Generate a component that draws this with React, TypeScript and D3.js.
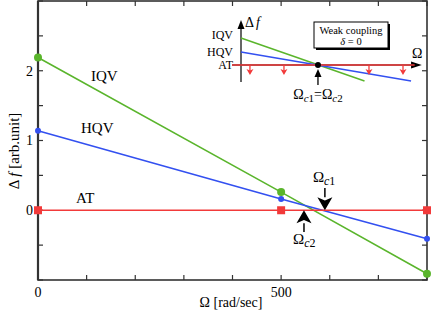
import React, { useRef, useEffect } from "react";
import * as d3 from "d3";

// main chart data
const omega = [0, 500, 800];
const iqv = [2.19, 0.26, -0.91];
const hqv = [1.14, 0.16, -0.41];
const at = [0, 0, 0];
const xTicks = [0, 100, 200, 300, 400, 500, 600, 700, 800];
const xTickLabels = [0, 500];
const yTicks = [-1, -0.5, 0, 0.5, 1, 1.5, 2, 2.5, 3];
const yTickLabels = [0, 1, 2];
const omegaC1 = 590;
const omegaC2 = 547;

// inset schematic (arbitrary units)
const insetIqvX = [0, 6.9];
const insetIqvY = [2.7, -1.6];
const insetHqvX = [0, 9.5];
const insetHqvY = [1.3, -1.6];
const insetAtX = [-0.5, 9.7];
const insetAtY = [0, 0];
const insetDown = [0.5, 2.4, 7.15, 9.05];
const insetCross = 4.3;

const GREEN = "#5ab52c";
const BLUE = "#3350f0";
const RED = "#f23a3a";
const AXIS = "#333";
const FONT = "Liberation Serif";

const App = () => {
	const svg_ref = useRef(null);
	const svg_width = 436;
	const svg_height = 317;

	useEffect(() => {
		const svg = d3.select(svg_ref.current);
		svg.selectChildren().remove();

		const x_scale = d3.scaleLinear().domain([0, 800]).range([38, 427]);
		const y_scale = d3.scaleLinear().domain([-1, 3]).range([280, 1]);
		const [x0, x1] = x_scale.range();
		const [y0, y1] = y_scale.range();

		// frame
		svg.append("rect")
			.attr("x", x0).attr("y", y1)
			.attr("width", x1 - x0).attr("height", y0 - y1)
			.attr("fill", "none").attr("stroke", AXIS).attr("stroke-width", 1.6);
		svg.append("line")
			.attr("x1", x0).attr("x2", x0).attr("y1", y1).attr("y2", y0)
			.attr("stroke", AXIS).attr("stroke-width", 2.2);

		// ticks on all four sides, pointing in
		const tl = 5;
		xTicks.forEach(t => {
			const x = x_scale(t);
			svg.append("line").attr("x1", x).attr("x2", x).attr("y1", y0).attr("y2", y0 - tl).attr("stroke", AXIS).attr("stroke-width", 1.2);
			svg.append("line").attr("x1", x).attr("x2", x).attr("y1", y1).attr("y2", y1 + tl).attr("stroke", AXIS).attr("stroke-width", 1.2);
		});
		yTicks.forEach(t => {
			const y = y_scale(t);
			svg.append("line").attr("x1", x0).attr("x2", x0 + tl).attr("y1", y).attr("y2", y).attr("stroke", AXIS).attr("stroke-width", 1.2);
			svg.append("line").attr("x1", x1).attr("x2", x1 - tl).attr("y1", y).attr("y2", y).attr("stroke", AXIS).attr("stroke-width", 1.2);
		});

		const text = (sel: any, x: number, y: number, size: number, anchor = "start") =>
			sel.append("text").attr("x", x).attr("y", y)
				.attr("font-family", FONT).attr("font-size", size).attr("text-anchor", anchor);

		xTickLabels.forEach(t => {
			text(svg, x_scale(t), 297, 14, "middle").text(t);
		});
		yTickLabels.forEach(t => {
			text(svg, 33, y_scale(t), 14, "end").attr("dy", "0.35em").text(t);
		});

		// axis titles
		text(svg, 231, 307, 14, "middle").text("Ω [rad/sec]");
		const ylab = svg.append("text")
			.attr("transform", "translate(19, 151) rotate(-90)")
			.attr("font-family", FONT).attr("text-anchor", "middle").attr("font-size", 15);
		ylab.append("tspan").text("Δ ");
		ylab.append("tspan").attr("font-style", "italic").text("f");
		ylab.append("tspan").text(" [arb.unit]");

		// series
		const series = [
			{ name: "IQV", values: iqv, color: GREEN, shape: "circle", r: 4 },
			{ name: "HQV", values: hqv, color: BLUE, shape: "circle", r: 3 },
			{ name: "AT", values: at, color: RED, shape: "square", r: 4 },
		];
		const line = d3.line<number>()
			.x((d, i) => x_scale(omega[i]))
			.y(d => y_scale(d));
		const g = svg.append("g");
		series.forEach(s => {
			g.append("path").datum(s.values)
				.attr("fill", "none").attr("stroke", s.color).attr("stroke-width", 1.6)
				.attr("d", line);
		});
		series.forEach(s => {
			s.values.forEach((v, i) => {
				if (s.shape === "circle") {
					g.append("circle").attr("cx", x_scale(omega[i])).attr("cy", y_scale(v))
						.attr("r", s.r).attr("fill", s.color);
				} else {
					g.append("rect").attr("x", x_scale(omega[i]) - s.r).attr("y", y_scale(v) - s.r)
						.attr("width", s.r * 2).attr("height", s.r * 2).attr("fill", s.color);
				}
			});
		});

		// series labels
		text(svg, 91, 81, 15).text("IQV");
		text(svg, 81, 133, 15).text("HQV");
		text(svg, 76, 203, 15).text("AT");

		// critical frequency arrows
		const arrow = (x: number, yTail: number, yTip: number, w: number, h: number) => {
			const dir = yTip > yTail ? 1 : -1;
			svg.append("line").attr("x1", x).attr("x2", x).attr("y1", yTail).attr("y2", yTip - dir * h)
				.attr("stroke", "#000").attr("stroke-width", 1.5);
			svg.append("path")
				.attr("d", `M${x},${yTip} L${x - w / 2},${yTip - dir * h} L${x},${yTip - dir * h * 0.75} L${x + w / 2},${yTip - dir * h} Z`)
				.attr("fill", "#000");
		};
		const omegaLabel = (x: number, y: number, sub: string, size: number) => {
			const t = text(svg, x, y, size);
			t.append("tspan").text("Ω");
			t.append("tspan").attr("font-style", "italic").attr("font-size", size * 0.8).attr("dy", 3).text("c");
			t.append("tspan").attr("font-size", size * 0.8).text(sub);
			return t;
		};
		arrow(x_scale(omegaC1), 188, y_scale(0), 15, 13);
		omegaLabel(x_scale(omegaC1) - 12, 182, "1", 15);
		arrow(x_scale(omegaC2), 232, y_scale(0), 15, 13);
		omegaLabel(x_scale(omegaC2) - 11, 244, "2", 15);

		// inset
		const ix = d3.scaleLinear().domain([0, 10]).range([241, 420]);
		const iy = d3.scaleLinear().domain([-2, 4.5]).range([85, 20]);
		const ins = svg.append("g");
		ins.append("line").attr("x1", ix(0)).attr("x2", ix(0)).attr("y1", iy(-1.7)).attr("y2", iy(4.0))
			.attr("stroke", AXIS).attr("stroke-width", 1.5);
		ins.append("path").attr("d", `M${ix(0)},${iy(4.5)} L${ix(0) - 3.5},${iy(3.6)} L${ix(0) + 3.5},${iy(3.6)} Z`).attr("fill", "#000");
		ins.append("line").attr("x1", ix(-0.5)).attr("x2", ix(9.6)).attr("y1", iy(0)).attr("y2", iy(0))
			.attr("stroke", AXIS).attr("stroke-width", 1.5);
		ins.append("path").attr("d", `M${ix(10.1)},${iy(0)} L${ix(9.5)},${iy(0.35)} L${ix(9.5)},${iy(-0.35)} Z`).attr("fill", "#000");

		const iline = (xs: number[], ys: number[], color: string) => {
			const l = d3.line<number>().x((d, i) => ix(xs[i])).y(d => iy(d));
			ins.append("path").datum(ys).attr("fill", "none").attr("stroke", color).attr("stroke-width", 1.5).attr("d", l);
		};
		iline(insetIqvX, insetIqvY, GREEN);
		iline(insetHqvX, insetHqvY, BLUE);
		iline(insetAtX, insetAtY, RED);
		insetDown.forEach(d => {
			ins.append("line").attr("x1", ix(d)).attr("x2", ix(d)).attr("y1", iy(0)).attr("y2", iy(-0.6))
				.attr("stroke", RED).attr("stroke-width", 1.3);
			ins.append("path").attr("d", `M${ix(d)},${iy(-1.0)} L${ix(d) - 3.5},${iy(-0.4)} L${ix(d)},${iy(-0.55)} L${ix(d) + 3.5},${iy(-0.4)} Z`).attr("fill", RED);
		});
		ins.append("circle").attr("cx", ix(insetCross)).attr("cy", iy(0)).attr("r", 3).attr("fill", "#000");
		ins.append("line").attr("x1", ix(insetCross)).attr("x2", ix(insetCross)).attr("y1", iy(-2.0)).attr("y2", iy(-0.9))
			.attr("stroke", "#000").attr("stroke-width", 1.3);
		ins.append("path").attr("d", `M${ix(insetCross)},${iy(-0.4)} L${ix(insetCross) - 3.5},${iy(-1.2)} L${ix(insetCross) + 3.5},${iy(-1.2)} Z`).attr("fill", "#000");

		const insLabel = (txt: string, y: number) =>
			text(ins, 233, iy(y), 12, "end").attr("dy", "0.35em").text(txt);
		insLabel("IQV", 3.0);
		insLabel("HQV", 1.3);
		insLabel("AT", 0);

		const df = text(ins, 245, 27, 14);
		df.append("tspan").text("Δ");
		df.append("tspan").attr("font-style", "italic").attr("dx", 2).text("f");
		text(ins, 412, 58, 14).text("Ω");

		const eq = text(ins, ix(insetCross), 99, 14, "middle");
		eq.append("tspan").text("Ω");
		eq.append("tspan").attr("font-style", "italic").attr("font-size", 11).attr("dy", 3).text("c");
		eq.append("tspan").attr("font-size", 11).text("1");
		eq.append("tspan").attr("dy", -3).text("=Ω");
		eq.append("tspan").attr("font-style", "italic").attr("font-size", 11).attr("dy", 3).text("c");
		eq.append("tspan").attr("font-size", 11).text("2");

		// note box
		ins.append("rect").attr("x", 316).attr("y", 24).attr("width", 74).attr("height", 26).attr("fill", "#000");
		ins.append("rect").attr("x", 314).attr("y", 22).attr("width", 74).attr("height", 26)
			.attr("fill", "#fff").attr("stroke", "#000").attr("stroke-width", 1);
		text(ins, 351, 34, 10.5, "middle").text("Weak coupling");
		const dl = text(ins, 351, 45, 10.5, "middle");
		dl.append("tspan").attr("font-style", "italic").text("δ");
		dl.append("tspan").text(" = 0");
	});

	return (
		<div style={{ position: "absolute", left: 0, top: 0 }}>
			<svg ref={svg_ref} width={svg_width} height={svg_height} style={{ display: "block", background: "#fff" }}>
			</svg>
		</div>
	);
};

export default App;
